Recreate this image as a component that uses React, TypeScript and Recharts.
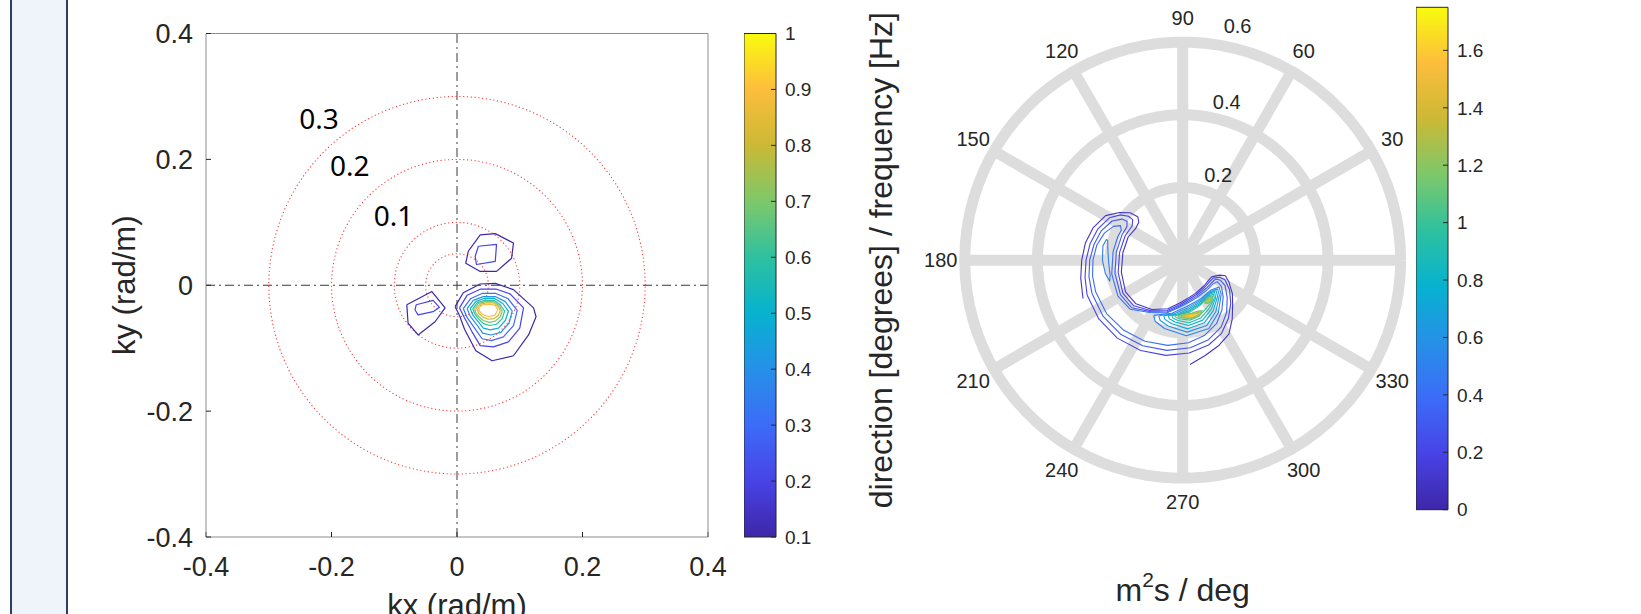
import {
  ScatterChart,
  Scatter,
  XAxis,
  YAxis,
  Label,
  LabelList,
  ReferenceLine,
  ReferenceArea,
} from 'recharts';

const FONT = "'Liberation Sans', Arial, Helvetica, sans-serif";
const INK = '#262626';

// ---------- left panel: wavenumber spectrum (kx, ky) ----------
const kTicks = [-0.4, -0.2, 0, 0.2, 0.4];
const kRingRadii = [0.05, 0.1, 0.2, 0.3];
const kRingNames = ['0.3', '0.2', '0.1'];
const kRingNameAt = [
  [-0.22, 0.264],
  [-0.171, 0.19],
  [-0.101, 0.11],
];

const mainLevels = [0.1, 0.2, 0.3, 0.4, 0.5, 0.6, 0.7, 0.8, 0.9];
const mainBlob = [
  [[-0.003, -0.034], [0.01, -0.012], [0.037, 0.002], [0.061, 0.003], [0.09, -0.007], [0.122, -0.036], [0.126, -0.05], [0.114, -0.079], [0.09, -0.112], [0.056, -0.12], [0.03, -0.104], [0.012, -0.07], [0.004, -0.048], [-0.003, -0.034]],
  [[0.004, -0.036], [0.016, -0.016], [0.038, -0.006], [0.062, -0.006], [0.085, -0.014], [0.106, -0.036], [0.1, -0.068], [0.082, -0.09], [0.058, -0.098], [0.037, -0.096], [0.024, -0.074], [0.012, -0.052], [0.004, -0.036]],
  [[0.01, -0.037], [0.022, -0.021], [0.04, -0.013], [0.062, -0.013], [0.081, -0.021], [0.096, -0.04], [0.09, -0.064], [0.074, -0.082], [0.055, -0.088], [0.04, -0.085], [0.028, -0.068], [0.016, -0.051], [0.01, -0.037]],
  [[0.016, -0.037], [0.026, -0.024], [0.042, -0.018], [0.061, -0.018], [0.077, -0.026], [0.088, -0.041], [0.083, -0.06], [0.07, -0.075], [0.054, -0.079], [0.041, -0.076], [0.031, -0.062], [0.021, -0.049], [0.016, -0.037]],
  [[0.021, -0.037], [0.03, -0.026], [0.043, -0.021], [0.06, -0.021], [0.073, -0.029], [0.082, -0.041], [0.077, -0.056], [0.066, -0.068], [0.053, -0.071], [0.042, -0.068], [0.033, -0.057], [0.025, -0.047], [0.021, -0.037]],
  [[0.025, -0.037], [0.032, -0.028], [0.044, -0.024], [0.059, -0.024], [0.069, -0.031], [0.076, -0.041], [0.072, -0.053], [0.063, -0.062], [0.052, -0.064], [0.042, -0.061], [0.034, -0.053], [0.028, -0.045], [0.025, -0.037]],
  [[0.028, -0.037], [0.034, -0.029], [0.045, -0.026], [0.058, -0.026], [0.067, -0.032], [0.072, -0.041], [0.069, -0.05], [0.061, -0.057], [0.051, -0.059], [0.042, -0.056], [0.035, -0.05], [0.03, -0.044], [0.028, -0.037]],
  [[0.031, -0.036], [0.037, -0.03], [0.046, -0.028], [0.058, -0.028], [0.065, -0.033], [0.069, -0.04], [0.066, -0.048], [0.059, -0.053], [0.05, -0.054], [0.042, -0.051], [0.035, -0.045], [0.031, -0.036]],
  [[0.035, -0.035], [0.041, -0.031], [0.052, -0.03], [0.061, -0.032], [0.065, -0.039], [0.061, -0.047], [0.05, -0.05], [0.04, -0.046], [0.035, -0.04], [0.035, -0.035]],
];

const upperLevels = [0.1, 0.2];
const upperBlob = [
  [[0.037, 0.08], [0.061, 0.082], [0.09, 0.067], [0.087, 0.043], [0.063, 0.022], [0.037, 0.022], [0.014, 0.035], [0.018, 0.054], [0.037, 0.08]],
  [[0.034, 0.062], [0.063, 0.065], [0.061, 0.038], [0.031, 0.033], [0.029, 0.046], [0.034, 0.062]],
];

const leftLevels = [0.1, 0.2];
const leftBlob = [
  [[-0.08, -0.031], [-0.04, -0.01], [-0.019, -0.036], [-0.035, -0.058], [-0.062, -0.079], [-0.078, -0.06], [-0.08, -0.031]],
  [[-0.065, -0.031], [-0.038, -0.024], [-0.028, -0.035], [-0.038, -0.042], [-0.062, -0.047], [-0.067, -0.039], [-0.065, -0.031]],
];

const kBarTicks = [0.1, 0.2, 0.3, 0.4, 0.5, 0.6, 0.7, 0.8, 0.9, 1];

// ---------- right panel: directional spectrum (polar) ----------
const dirTicks = [0, 30, 60, 90, 120, 150, 180, 210, 240, 270, 300, 330];
const freqRings = [0.2, 0.4, 0.6];
const freqRingNames = ['0.2', '0.4', '0.6'];
const freqRingNameAt = [
  [67.5, 0.255],
  [74.5, 0.453],
  [76.8, 0.661],
];

// crescent contours as [direction deg, frequency Hz]
const crescentLevels = [0.1, 0.2, 0.3, 0.4, 0.5];
const crescent = [
  [[201, 0.294], [190, 0.285], [180, 0.278], [170, 0.272], [160, 0.262], [150, 0.245], [143, 0.218], [138, 0.195], [136, 0.172], [139, 0.16], [146, 0.156], [157, 0.163], [173, 0.166], [191, 0.172], [209, 0.18], [223, 0.176], [238, 0.16], [253, 0.14], [266, 0.118], [280, 0.104], [291, 0.098], [310, 0.092], [322, 0.09], [330, 0.092], [338, 0.11], [340, 0.125], [335, 0.14], [326, 0.165], [318, 0.185], [310, 0.212], [302, 0.24], [293, 0.255], [283, 0.27], [274, 0.288]],
  [[200, 0.28], [190, 0.273], [180, 0.266], [170, 0.259], [160, 0.249], [150, 0.233], [144, 0.212], [141, 0.192], [141, 0.177], [146, 0.168], [157, 0.172], [173, 0.175], [191, 0.181], [209, 0.188], [223, 0.184], [238, 0.164], [253, 0.145], [266, 0.123], [280, 0.108], [291, 0.102], [310, 0.096], [322, 0.095], [330, 0.098], [335, 0.112], [335, 0.128], [328, 0.152], [318, 0.178], [308, 0.204], [298, 0.228], [287, 0.244], [274, 0.256], [260, 0.266], [245, 0.274], [230, 0.28], [215, 0.282], [200, 0.28]],
  [[200, 0.266], [190, 0.262], [180, 0.256], [170, 0.248], [160, 0.238], [151, 0.222], [146, 0.202], [145, 0.187], [149, 0.179], [157, 0.181], [173, 0.184], [191, 0.19], [209, 0.196], [223, 0.192], [238, 0.167], [253, 0.149], [266, 0.127], [280, 0.112], [291, 0.106], [310, 0.101], [322, 0.101], [330, 0.104], [332, 0.118], [329, 0.136], [320, 0.16], [310, 0.188], [300, 0.212], [288, 0.23], [275, 0.242], [260, 0.252], [245, 0.26], [230, 0.266], [215, 0.268], [200, 0.266]],
  [[200, 0.255], [190, 0.252], [180, 0.247], [170, 0.24], [161, 0.228], [154, 0.212], [151, 0.196], [154, 0.188], [160, 0.19], [173, 0.193], [191, 0.199], [209, 0.204], [223, 0.198], [238, 0.17], [253, 0.152], [266, 0.13], [280, 0.116], [291, 0.11], [310, 0.106], [322, 0.106], [328, 0.112], [326, 0.128], [318, 0.15], [308, 0.175], [298, 0.198], [286, 0.216], [274, 0.228], [260, 0.238], [245, 0.246], [230, 0.252], [215, 0.256], [200, 0.255]],
  [[165, 0.214], [172, 0.208], [182, 0.204], [192, 0.204], [196, 0.209], [190, 0.216], [180, 0.221], [170, 0.223], [165, 0.218], [165, 0.214]],
];

// peak contours as x / y in the polar plane
const peakLevels = [0.5, 0.6, 0.7, 0.8, 0.9, 1.0, 1.1, 1.2, 1.3, 1.4, 1.5, 1.6];
const peakMain = [
  [[-0.08, -0.152], [-0.03, -0.146], [0.01, -0.128], [0.05, -0.106], [0.078, -0.082], [0.1, -0.074], [0.106, -0.094], [0.098, -0.145], [0.072, -0.188], [0.01, -0.208], [-0.05, -0.188], [-0.076, -0.168], [-0.08, -0.152]],
  [[-0.066, -0.153], [-0.022, -0.147], [0.012, -0.132], [0.05, -0.11], [0.076, -0.086], [0.096, -0.079], [0.101, -0.097], [0.091, -0.142], [0.066, -0.18], [0.012, -0.198], [-0.04, -0.181], [-0.062, -0.166], [-0.066, -0.153]],
  [[-0.052, -0.153], [-0.014, -0.148], [0.014, -0.136], [0.05, -0.114], [0.075, -0.09], [0.092, -0.084], [0.096, -0.1], [0.084, -0.139], [0.06, -0.172], [0.014, -0.189], [-0.03, -0.175], [-0.049, -0.163], [-0.052, -0.153]],
  [[-0.04, -0.153], [-0.007, -0.148], [0.016, -0.139], [0.05, -0.118], [0.074, -0.094], [0.088, -0.089], [0.091, -0.103], [0.078, -0.136], [0.055, -0.165], [0.016, -0.18], [-0.021, -0.17], [-0.037, -0.161], [-0.04, -0.153]],
  [[-0.03, -0.153], [-0.001, -0.147], [0.018, -0.141], [0.05, -0.121], [0.072, -0.098], [0.085, -0.094], [0.087, -0.106], [0.072, -0.134], [0.05, -0.159], [0.018, -0.172], [-0.013, -0.166], [-0.027, -0.159], [-0.03, -0.153]],
  [[-0.021, -0.153], [0.004, -0.147], [0.02, -0.143], [0.048, -0.124], [0.07, -0.101], [0.082, -0.098], [0.083, -0.109], [0.066, -0.131], [0.045, -0.154], [0.02, -0.165], [-0.006, -0.162], [-0.018, -0.158], [-0.021, -0.153]],
  [[-0.013, -0.153], [0.008, -0.149], [0.024, -0.146], [0.042, -0.14], [0.054, -0.139], [0.05, -0.147], [0.038, -0.156], [0.022, -0.161], [0.001, -0.159], [-0.011, -0.156], [-0.013, -0.153]],
  [[-0.008, -0.153], [0.008, -0.15], [0.025, -0.147], [0.04, -0.142], [0.05, -0.141], [0.047, -0.148], [0.036, -0.155], [0.021, -0.159], [0.003, -0.158], [-0.008, -0.153]],
  [[-0.003, -0.153], [0.011, -0.15], [0.026, -0.148], [0.039, -0.144], [0.046, -0.144], [0.043, -0.15], [0.032, -0.155], [0.018, -0.157], [0.003, -0.156], [-0.003, -0.153]],
  [[0.003, -0.153], [0.015, -0.15], [0.028, -0.149], [0.039, -0.146], [0.043, -0.148], [0.036, -0.153], [0.022, -0.156], [0.008, -0.156], [0.003, -0.153]],
  [[0.009, -0.153], [0.02, -0.151], [0.031, -0.15], [0.038, -0.15], [0.03, -0.154], [0.016, -0.155], [0.009, -0.153]],
  [[0.016, -0.153], [0.025, -0.152], [0.032, -0.152], [0.025, -0.154], [0.016, -0.153]],
];
const peakSideLevels = [1.1, 1.2, 1.3, 1.4];
const peakSide = [
  [[0.062, -0.112], [0.072, -0.102], [0.08, -0.101], [0.08, -0.108], [0.071, -0.118], [0.063, -0.12], [0.06, -0.116], [0.062, -0.112]],
  [[0.065, -0.111], [0.073, -0.104], [0.078, -0.104], [0.077, -0.11], [0.069, -0.117], [0.063, -0.116], [0.065, -0.111]],
  [[0.068, -0.11], [0.074, -0.106], [0.077, -0.107], [0.074, -0.112], [0.068, -0.114], [0.068, -0.11]],
  [[0.07, -0.11], [0.074, -0.108], [0.075, -0.11], [0.071, -0.112], [0.07, -0.11]],
];

const sBarTicks = [0, 0.2, 0.4, 0.6, 0.8, 1, 1.2, 1.4, 1.6];

// ---------- helpers ----------
const parulaStops = ['#3e26a8', '#4843e6', '#3c6cf8', '#2690e8', '#06b2cf', '#2ec19f', '#7dc86a', '#cbb935', '#fdbd3c', '#f9fb0e'];

function parula(t: number) {
  const n = parulaStops.length - 1;
  const s = Math.max(0, Math.min(1, t)) * n;
  const i = Math.min(Math.floor(s), n - 1);
  const f = s - i;
  const a = parseInt(parulaStops[i].slice(1), 16);
  const b = parseInt(parulaStops[i + 1].slice(1), 16);
  const ch = (sh: number) => Math.round(((a >> sh) & 255) * (1 - f) + ((b >> sh) & 255) * f);
  return `rgb(${ch(16)},${ch(8)},${ch(0)})`;
}
const kColor = (v: number) => parula((v - 0.1) / 0.9);
const sColor = (v: number) => parula(v / 1.75);

const DEG = Math.PI / 180;
const polar = (a: number, r: number) => ({ x: r * Math.cos(a * DEG), y: r * Math.sin(a * DEG) });
const xy = (loop: number[][]) => loop.map(([x, y]) => ({ x, y }));
const polarLoop = (loop: number[][]) => loop.map(([a, r]) => polar(a, r));
const circleSteps = Array.from({ length: 91 }, (_, i) => i * 4);
const circle = (r: number) => circleSteps.map((a) => polar(a, r));

const noDot = () => <g />;

const line = (key: string, pts: { x: number; y: number }[], stroke: string, width = 1.2, dash?: string) => (
  <Scatter
    key={key}
    data={pts}
    line={{ stroke, strokeWidth: width, strokeDasharray: dash, strokeLinejoin: 'round' }}
    lineType="joint"
    shape={noDot}
    isAnimationActive={false}
  />
);

const gradStops = parulaStops.map((c, i) => (
  <stop key={c} offset={`${(i / (parulaStops.length - 1)) * 100}%`} stopColor={c} />
));

function UnitLabel(props: any) {
  const vb = props.viewBox || { x: 0, y: 0, width: 0, height: 0 };
  const cx = vb.x + vb.width / 2;
  const cy = vb.y + vb.height / 2;
  return (
    <text x={cx} y={cy + 11} textAnchor="middle" fill={INK} fontSize={32} fontFamily={FONT}>
      m
      <tspan dy={-14} fontSize={21}>
        2
      </tspan>
      <tspan dy={14}>s / deg</tspan>
    </text>
  );
}

const tickStyle = { fill: INK, fontSize: 27, fontFamily: FONT };
const barTickStyle = { fill: INK, fontSize: 19, fontFamily: FONT };

function ColorBar(props: { id: string; ticks: number[]; min: number; max: number; height: number; top: number }) {
  const { id, ticks, min, max, height, top } = props;
  return (
    <ScatterChart width={92} height={top + height + 20} margin={{ top, right: 0, bottom: 20, left: 0 }}>
      <defs>
        <linearGradient id={id} x1="0" y1="1" x2="0" y2="0">
          {gradStops}
        </linearGradient>
      </defs>
      <XAxis type="number" dataKey="x" domain={[0, 1]} hide />
      <YAxis
        type="number"
        dataKey="y"
        orientation="right"
        domain={[min, max]}
        ticks={ticks}
        width={60}
        tickSize={-5}
        tickMargin={14}
        axisLine={false}
        tickLine={{ stroke: INK }}
        tick={barTickStyle}
      />
      <ReferenceArea x1={0} x2={1} y1={min} y2={max} fill={`url(#${id})`} fillOpacity={1} stroke={INK} strokeWidth={1} />
      <Scatter data={ticks.map((v) => ({ x: 0.5, y: v }))} shape={noDot} isAnimationActive={false} />
    </ScatterChart>
  );
}

export default function App() {
  return (
    <div style={{ position: 'absolute', left: 0, top: 0, width: 1641, height: 614, overflow: 'hidden', background: '#fff' }}>
      <div
        style={{
          position: 'absolute',
          left: 10,
          top: 0,
          width: 58,
          height: 614,
          boxSizing: 'border-box',
          background: '#eef4fa',
          borderLeft: '2px solid #2c3f5e',
          borderRight: '2px solid #2c3f5e',
        }}
      />

      {/* wavenumber spectrum */}
      <div style={{ position: 'absolute', left: 41, top: 0 }}>
        <ScatterChart width={698} height={673} margin={{ top: 32.5, right: 30, bottom: 0, left: 0 }}>
          <XAxis
            type="number"
            dataKey="x"
            domain={[-0.4, 0.4]}
            ticks={kTicks}
            height={136}
            tickSize={-5}
            tickMargin={25}
            axisLine={{ stroke: '#8c8c8c' }}
            tickLine={{ stroke: INK }}
            tick={tickStyle}
          >
            <Label value="kx (rad/m)" position="center" fill={INK} fontSize={31} fontFamily={FONT} />
          </XAxis>
          <XAxis
            xAxisId="top"
            orientation="top"
            type="number"
            domain={[-0.4, 0.4]}
            ticks={kTicks}
            height={1}
            tickSize={-5}
            tick={false}
            axisLine={{ stroke: '#8c8c8c' }}
            tickLine={{ stroke: INK }}
          />
          <YAxis
            type="number"
            dataKey="y"
            domain={[-0.4, 0.4]}
            ticks={kTicks}
            width={165}
            tickSize={-5}
            tickMargin={18}
            axisLine={{ stroke: '#8c8c8c' }}
            tickLine={{ stroke: INK }}
            tick={tickStyle}
          >
            <Label value="ky (rad/m)" angle={-90} position="center" fill={INK} fontSize={31} fontFamily={FONT} />
          </YAxis>
          <YAxis
            yAxisId="right"
            orientation="right"
            type="number"
            domain={[-0.4, 0.4]}
            ticks={kTicks}
            width={1}
            tickSize={-5}
            tick={false}
            axisLine={{ stroke: '#8c8c8c' }}
            tickLine={{ stroke: INK }}
          />
          <ReferenceLine x={0} stroke="#3a3a3a" strokeDasharray="9 4 2 4" />
          <ReferenceLine y={0} stroke="#3a3a3a" strokeDasharray="9 4 2 4" />
          {kRingRadii.map((r) => line(`ring${r}`, circle(r), '#ff3c3c', 1.1, '1.2 2.6'))}
          {upperBlob.map((loop, i) => line(`u${i}`, xy(loop), kColor(upperLevels[i])))}
          {leftBlob.map((loop, i) => line(`l${i}`, xy(loop), kColor(leftLevels[i])))}
          {mainBlob.map((loop, i) => line(`m${i}`, xy(loop), kColor(mainLevels[i])))}
          <Scatter
            data={kRingNames.map((name, i) => ({ x: kRingNameAt[i][0], y: kRingNameAt[i][1], name }))}
            shape={noDot}
            isAnimationActive={false}
          >
            <LabelList dataKey="name" position="center" fill="#000" fontSize={28} fontFamily="'Noto Sans', 'Open Sans', sans-serif" />
          </Scatter>
        </ScatterChart>
      </div>

      {/* colorbar of the wavenumber spectrum */}
      <div style={{ position: 'absolute', left: 744, top: 0 }}>
        <ColorBar id="parulaK" ticks={kBarTicks} min={0.1} max={1} top={33.5} height={503.5} />
      </div>

      {/* directional spectrum, polar */}
      <div style={{ position: 'absolute', left: 833.3, top: 0 }}>
        <ScatterChart width={614} height={666} margin={{ top: 5.7, right: 10, bottom: 0, left: 0 }}>
          <XAxis type="number" dataKey="x" domain={[-0.7, 0.7]} height={151.4} axisLine={false} tickLine={false} tick={false}>
            <Label content={<UnitLabel />} />
          </XAxis>
          <YAxis type="number" dataKey="y" domain={[-0.7, 0.7]} width={95.4} axisLine={false} tickLine={false} tick={false}>
            <Label
              value="direction [degrees] / frequency [Hz]"
              angle={-90}
              position="center"
              fill={INK}
              fontSize={32}
              fontFamily={FONT}
            />
          </YAxis>
          {freqRings.map((r) => line(`fr${r}`, circle(r), '#dddddd', 11))}
          <Scatter
            data={freqRingNames.map((name, i) => ({ ...polar(freqRingNameAt[i][0], freqRingNameAt[i][1]), name }))}
            shape={noDot}
            isAnimationActive={false}
          >
            <LabelList dataKey="name" position="center" fill={INK} fontSize={20} fontFamily={FONT} />
          </Scatter>
          {dirTicks
            .filter((a) => a < 180)
            .map((a) => line(`sp${a}`, [polar(a, 0.6), polar(a + 180, 0.6)], '#dddddd', 11))}
          {crescent.map((loop, i) => line(`c${i}`, polarLoop(loop), sColor(crescentLevels[i]), 1.1))}
          {peakMain.map((loop, i) => line(`p${i}`, xy(loop), sColor(peakLevels[i]), 1.1))}
          {peakSide.map((loop, i) => line(`q${i}`, xy(loop), sColor(peakSideLevels[i]), 1.1))}
          <Scatter
            data={dirTicks.map((a) => ({ ...polar(a, 0.666), name: String(a) }))}
            shape={noDot}
            isAnimationActive={false}
          >
            <LabelList dataKey="name" position="center" fill={INK} fontSize={20} fontFamily={FONT} />
          </Scatter>
        </ScatterChart>
      </div>

      {/* colorbar of the directional spectrum */}
      <div style={{ position: 'absolute', left: 1416, top: 0 }}>
        <ColorBar id="parulaS" ticks={sBarTicks} min={0} max={1.75} top={7.3} height={502.4} />
      </div>
    </div>
  );
}
